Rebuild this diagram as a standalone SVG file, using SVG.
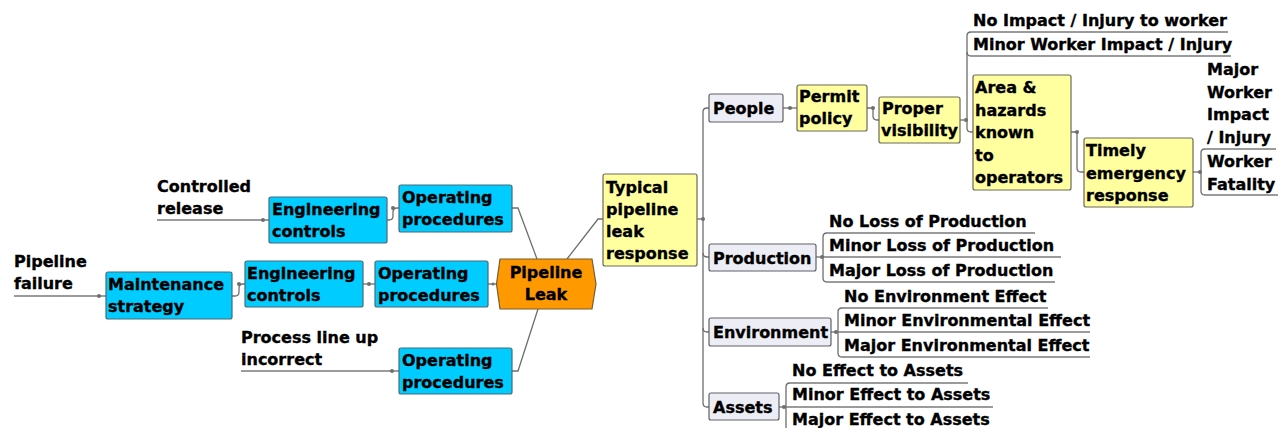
<svg xmlns="http://www.w3.org/2000/svg" width="1281" height="428" viewBox="0 0 1281 428">
<style>
text{font-family:"DejaVu Sans","Verdana",sans-serif;font-weight:bold;font-size:16px;fill:#000;stroke:#000;stroke-width:0.35}
.cy{fill:#00ccff;stroke:#4a6a78;stroke-width:1.2}
.yl{fill:#ffffa0;stroke:#6a6a5a;stroke-width:1.2}
.gr{fill:#ededf5;stroke:#606068;stroke-width:1.2}
.or{fill:#ff9900;stroke:#7a5a30;stroke-width:1.2}
.c{fill:none;stroke:#6e6e6e;stroke-width:1.3}
.u{fill:none;stroke:#7a7a7a;stroke-width:1.5}
.d{fill:#6e6e6e}
</style>
<rect width="1281" height="428" fill="#ffffff"/>
<g id="connectors">
<path class="u" d="M157,220 H269"/>
<path class="c" d="M387,220 H389 Q393,220 393,216 V212 Q393,208 397,208 H399"/>
<path class="c" d="M512,208 H518 L537,259"/>
<path class="u" d="M14,296 H106"/>
<path class="c" d="M232,296 H235 Q239,296 239,292 V288 Q239,284 243,284 H245"/>
<path class="c" d="M363,284 H375"/>
<path class="c" d="M488,284 H497"/>
<path class="u" d="M241,371 H399"/>
<path class="c" d="M512,371 H518 L538,309"/>
<path class="c" d="M567,259 L598,219 H603"/>
<path class="c" d="M697,219 H703"/>
<path class="c" d="M709,108 H707 Q703,108 703,112 V403 Q703,407 707,407 H709"/>
<path class="c" d="M703,253 Q703,257 707,257 H709"/>
<path class="c" d="M703,328 Q703,332 707,332 H709"/>
<path class="c" d="M783,108 H797"/>
<path class="c" d="M867,108 H873 V116 Q873,120 877,120 H879"/>
<path class="c" d="M960,120 H967"/>
<path class="c" d="M971,32 Q967,32 967,36 V128 Q967,132 971,132 H973"/>
<path class="c" d="M967,52 Q967,56 971,56"/>
<path class="u" d="M971,32 H1228"/>
<path class="u" d="M971,56 H1231"/>
<path class="c" d="M1071,132 H1077 V168 Q1077,172 1081,172 H1084"/>
<path class="c" d="M1193,172 H1201"/>
<path class="c" d="M1205,149 Q1201,149 1201,153 V191 Q1201,195 1205,195"/>
<path class="u" d="M1205,149 H1276"/>
<path class="u" d="M1205,195 H1278"/>
<path class="c" d="M816,257 H823"/>
<path class="c" d="M827,233 Q823,233 823,237 V278 Q823,282 827,282"/>
<path class="u" d="M827,233 H1035"/>
<path class="u" d="M823,257 H1061"/>
<path class="u" d="M827,282 H1055"/>
<path class="c" d="M831,332 H838"/>
<path class="c" d="M842,308 Q838,308 838,312 V353 Q838,357 842,357"/>
<path class="u" d="M842,308 H1048"/>
<path class="u" d="M838,332 H1090"/>
<path class="u" d="M842,357 H1090"/>
<path class="c" d="M779,407 H786"/>
<path class="c" d="M790,383 Q786,383 786,387 V431"/>
<path class="u" d="M790,383 H968"/>
<path class="u" d="M786,407 H993"/>
<path class="u" d="M786,431 H993"/>
<circle class="d" cx="263" cy="220" r="2"/>
<circle class="d" cx="393" cy="208" r="2"/>
<circle class="d" cx="99" cy="296" r="2"/>
<circle class="d" cx="239" cy="284" r="2"/>
<circle class="d" cx="369" cy="284" r="2"/>
<circle class="d" cx="493" cy="284" r="1.5"/>
<circle class="d" cx="392" cy="371" r="2"/>
<circle class="d" cx="703" cy="219" r="2"/>
<circle class="d" cx="790" cy="108" r="2"/>
<circle class="d" cx="873" cy="108" r="2"/>
<circle class="d" cx="966" cy="120" r="2"/>
<circle class="d" cx="1077" cy="132" r="2"/>
<circle class="d" cx="1200" cy="172" r="2"/>
<circle class="d" cx="822" cy="257" r="2"/>
<circle class="d" cx="836" cy="332" r="2"/>
<circle class="d" cx="784" cy="407" r="2"/>
</g>
<g id="controlled-release"><text x="157" y="192">Controlled</text><text x="157" y="214">release</text></g>
<g id="pipeline-failure"><text x="14" y="267">Pipeline</text><text x="14" y="289">failure</text></g>
<g id="process-line-up"><text x="241" y="343">Process line up</text><text x="241" y="365">incorrect</text></g>
<g id="eng-controls-top"><rect class="cy" x="269" y="197" width="118" height="46" rx="2"/><text x="272" y="215">Engineering</text><text x="272" y="237">controls</text></g>
<g id="op-proc-top"><rect class="cy" x="399" y="185" width="113" height="47" rx="2"/><text x="402" y="203">Operating</text><text x="402" y="225">procedures</text></g>
<g id="maintenance"><rect class="cy" x="106" y="272" width="126" height="47" rx="2"/><text x="108" y="290">Maintenance</text><text x="108" y="312">strategy</text></g>
<g id="eng-controls-mid"><rect class="cy" x="245" y="261" width="118" height="46" rx="2"/><text x="247" y="279">Engineering</text><text x="247" y="301">controls</text></g>
<g id="op-proc-mid"><rect class="cy" x="375" y="261" width="113" height="46" rx="2"/><text x="378" y="279">Operating</text><text x="378" y="301">procedures</text></g>
<g id="op-proc-bottom"><rect class="cy" x="399" y="348" width="113" height="46" rx="2"/><text x="402" y="366">Operating</text><text x="402" y="388">procedures</text></g>
<g id="pipeline-leak"><polygon class="or" points="500,259 592,259 596,284 592,309 500,309 496.5,284"/><text x="546" y="278" text-anchor="middle">Pipeline</text><text x="546" y="300" text-anchor="middle">Leak</text></g>
<g id="typical"><rect class="yl" x="603" y="174" width="94" height="92" rx="2"/><text x="606" y="193">Typical</text><text x="606" y="215">pipeline</text><text x="606" y="237">leak</text><text x="606" y="259">response</text></g>
<g id="people"><rect class="gr" x="709" y="94" width="74" height="28" rx="2"/><text x="713" y="114">People</text></g>
<g id="permit"><rect class="yl" x="797" y="85" width="70" height="46" rx="2"/><text x="799" y="102">Permit</text><text x="799" y="124">policy</text></g>
<g id="proper"><rect class="yl" x="879" y="97" width="81" height="46" rx="2"/><text x="882" y="114">Proper</text><text x="881" y="136">visibility</text></g>
<g id="no-impact"><text x="973" y="26">No Impact / Injury to worker</text></g>
<g id="minor-worker"><text x="973" y="50">Minor Worker Impact / Injury</text></g>
<g id="area"><rect class="yl" x="973" y="75" width="98" height="115" rx="2"/><text x="975" y="93">Area &amp;</text><text x="975" y="115.5">hazards</text><text x="975" y="138">known</text><text x="975" y="160.5">to</text><text x="975" y="183">operators</text></g>
<g id="timely"><rect class="yl" x="1084" y="138" width="109" height="69" rx="2"/><text x="1086" y="156">Timely</text><text x="1086" y="178.5">emergency</text><text x="1086" y="201">response</text></g>
<g id="major-worker"><text x="1207" y="75">Major</text><text x="1207" y="97.5">Worker</text><text x="1207" y="120">Impact</text><text x="1207" y="142.5">/ Injury</text></g>
<g id="fatality"><text x="1207" y="167">Worker</text><text x="1207" y="189.5">Fatality</text></g>
<g id="production"><rect class="gr" x="709" y="244" width="107" height="27" rx="2"/><text x="713" y="263.5">Production</text></g>
<g id="no-loss"><text x="829" y="227">No Loss of Production</text></g>
<g id="minor-loss"><text x="829" y="251">Minor Loss of Production</text></g>
<g id="major-loss"><text x="829" y="276">Major Loss of Production</text></g>
<g id="environment"><rect class="gr" x="709" y="318" width="122" height="28" rx="2"/><text x="713" y="338">Environment</text></g>
<g id="no-env"><text x="844" y="302">No Environment Effect</text></g>
<g id="minor-env"><text x="844" y="326">Minor Environmental Effect</text></g>
<g id="major-env"><text x="844" y="350.5">Major Environmental Effect</text></g>
<g id="assets"><rect class="gr" x="709" y="393" width="70" height="27" rx="2"/><text x="713" y="412.5">Assets</text></g>
<g id="no-assets"><text x="792" y="375.5">No Effect to Assets</text></g>
<g id="minor-assets"><text x="792" y="400">Minor Effect to Assets</text></g>
<g id="major-assets"><text x="792" y="424.5">Major Effect to Assets</text></g>
</svg>
